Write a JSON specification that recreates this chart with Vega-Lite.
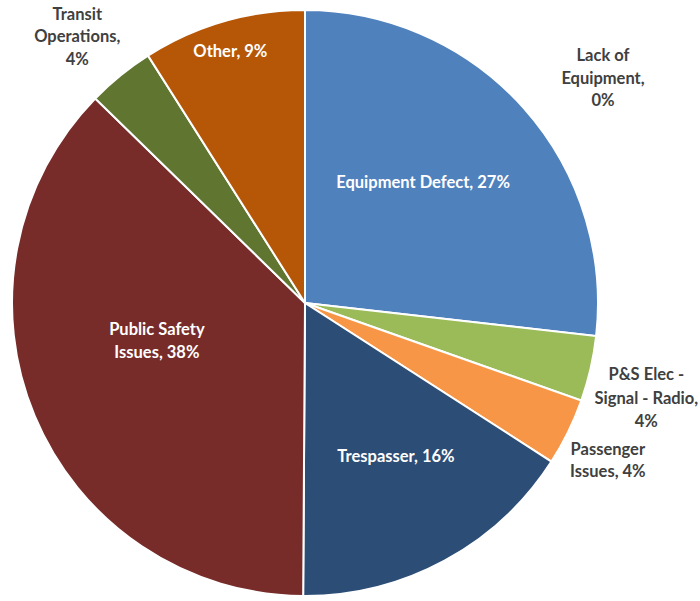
{
  "$schema": "https://vega.github.io/schema/vega-lite/v6.json",
  "width": 610,
  "height": 596,
  "autosize": {"type": "none"},
  "padding": {"left": 0, "right": 90, "top": 5, "bottom": 0},
  "background": "white",
  "config": {"view": {"stroke": null}},
  "data": {
    "values": [
      {"cat": "Equipment Defect", "pct": 26.8, "ord": 1, "label": "Equipment Defect, 27%"},
      {"cat": "P&S Elec - Signal - Radio", "pct": 3.6, "ord": 2, "label": "P&S Elec -\nSignal - Radio,\n4%"},
      {"cat": "Passenger Issues", "pct": 3.7, "ord": 3, "label": "Passenger\nIssues, 4%"},
      {"cat": "Trespasser", "pct": 16.0, "ord": 4, "label": "Trespasser, 16%"},
      {"cat": "Public Safety Issues", "pct": 37.2, "ord": 5, "label": "Public Safety\nIssues, 38%"},
      {"cat": "Transit Operations", "pct": 3.7, "ord": 6, "label": "Transit\nOperations,\n4%"},
      {"cat": "Other", "pct": 9.0, "ord": 7, "label": "Other, 9%"},
      {"cat": "Lack of Equipment", "pct": 0, "ord": 8, "label": "Lack of\nEquipment,\n0%"}
    ]
  },
  "encoding": {
    "theta": {"field": "pct", "type": "quantitative", "stack": true},
    "order": {"field": "ord", "type": "quantitative"}
  },
  "layer": [
    {
      "mark": {"type": "arc", "outerRadius": 293, "stroke": "white", "strokeWidth": 2},
      "encoding": {
        "color": {
          "field": "cat",
          "type": "nominal",
          "legend": null,
          "scale": {
            "domain": ["Equipment Defect", "P&S Elec - Signal - Radio", "Passenger Issues", "Trespasser", "Public Safety Issues", "Transit Operations", "Other", "Lack of Equipment"],
            "range": ["#4F81BD", "#9BBB59", "#F79646", "#2C4D75", "#772C2A", "#5F7530", "#B65708", "#7F6084"]
          }
        }
      }
    },
    {
      "mark": {"type": "text", "radius": 165, "dx": -5, "dy": -10, "font": "Lato", "fontWeight": "bold", "fontSize": 16.5, "fill": "white", "lineBreak": "\n", "lineHeight": 22},
      "encoding": {"text": {"condition": {"test": "datum.cat === 'Equipment Defect'", "field": "label"}, "value": ""}}
    },
    {
      "mark": {"type": "text", "radius": 170, "dx": 10, "dy": 4.5, "font": "Lato", "fontWeight": "bold", "fontSize": 16.5, "fill": "white", "lineBreak": "\n", "lineHeight": 22},
      "encoding": {"text": {"condition": {"test": "datum.cat === 'Trespasser'", "field": "label"}, "value": ""}}
    },
    {
      "mark": {"type": "text", "radius": 154, "dx": -6, "dy": -32, "font": "Lato", "fontWeight": "bold", "fontSize": 16.5, "fill": "white", "lineBreak": "\n", "lineHeight": 23},
      "encoding": {"text": {"condition": {"test": "datum.cat === 'Public Safety Issues'", "field": "label"}, "value": ""}}
    },
    {
      "mark": {"type": "text", "radius": 264, "dx": -1, "dy": 3, "font": "Lato", "fontWeight": "bold", "fontSize": 16.5, "fill": "white", "lineBreak": "\n", "lineHeight": 22},
      "encoding": {"text": {"condition": {"test": "datum.cat === 'Other'", "field": "label"}, "value": ""}}
    },
    {
      "mark": {"type": "text", "radius": 340, "dx": -13.5, "dy": -24, "font": "Lato", "fontWeight": "bold", "fontSize": 16.5, "fill": "#404040", "lineBreak": "\n", "lineHeight": 22.5},
      "encoding": {"text": {"condition": {"test": "datum.cat === 'Transit Operations'", "field": "label"}, "value": ""}}
    },
    {
      "mark": {"type": "text", "radius": 340, "dx": 10, "dy": -4, "font": "Lato", "fontWeight": "bold", "fontSize": 16.5, "fill": "#404040", "lineBreak": "\n", "lineHeight": 23.5},
      "encoding": {"text": {"condition": {"test": "datum.cat === 'P&S Elec - Signal - Radio'", "field": "label"}, "value": ""}}
    },
    {
      "mark": {"type": "text", "radius": 335, "dx": 2, "dy": 0, "font": "Lato", "fontWeight": "bold", "fontSize": 16.5, "fill": "#404040", "lineBreak": "\n", "lineHeight": 22},
      "encoding": {"text": {"condition": {"test": "datum.cat === 'Passenger Issues'", "field": "label"}, "value": ""}}
    },
    {
      "mark": {"type": "text", "radius": 226, "dx": 298, "dy": -21, "font": "Lato", "fontWeight": "bold", "fontSize": 16.5, "fill": "#404040", "lineBreak": "\n", "lineHeight": 22.5},
      "encoding": {"text": {"condition": {"test": "datum.cat === 'Lack of Equipment'", "field": "label"}, "value": ""}}
    }
  ]
}
